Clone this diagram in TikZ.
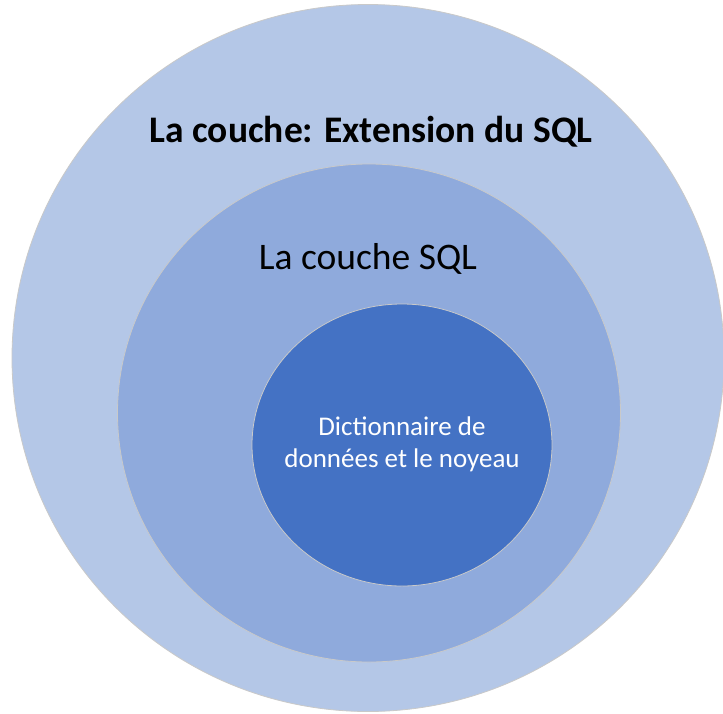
\documentclass[tikz,border=0pt]{standalone}
\usepackage{fontspec}
\setmainfont{Carlito}
\usetikzlibrary{shapes.geometric}
\definecolor{outerc}{HTML}{B4C7E7}
\definecolor{midc}{HTML}{8FAADC}
\definecolor{innerc}{HTML}{4472C4}
\definecolor{rimc}{HTML}{C9C9C9}
\tikzset{
  layer/.style={ellipse, draw=rimc, line width=0.8pt, inner sep=0pt},
  lbl/.style={inner sep=0pt, align=center}
}
\begin{document}
\begin{tikzpicture}[x=1pt,y=-1pt]
\useasboundingbox (0,0) rectangle (723,713);
\clip (0,0) rectangle (723,713);
\fill[white] (0,0) rectangle (723,713);
\node[layer, fill=outerc, minimum width=712pt, minimum height=707pt] (outer) at (368,358) {};
\node[layer, fill=midc, minimum width=503pt, minimum height=498pt] (mid) at (369,413) {};
\node[layer, fill=innerc, minimum width=300pt, minimum height=282pt] (inner) at (402,445) {};
\node[lbl, font=\fontsize{37.5}{42}\selectfont\bfseries, anchor=base] (t1) at (371,142) {La couche: Extension du SQL};
\node[lbl, font=\fontsize{37.5}{42}\selectfont, anchor=base] (t2) at (368,269) {La couche SQL};
\node[lbl, font=\fontsize{27}{32}\selectfont, text=white, anchor=north] (t3) at (402,417) {Dictionnaire de\\donn\'ees et le noyeau};
\end{tikzpicture}
\end{document}
